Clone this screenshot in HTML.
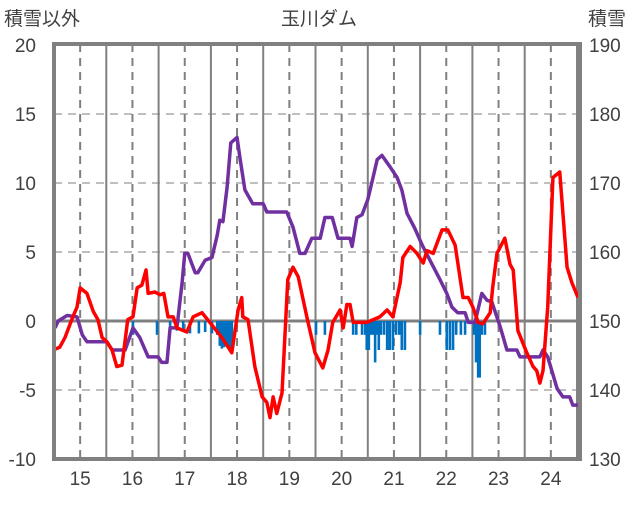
<!DOCTYPE html>
<html><head><meta charset="utf-8"><style>
body{margin:0;background:#fff;}
svg text{font-family:"Liberation Sans","Noto Sans CJK JP",sans-serif;fill:#404040;}
</style></head><body>
<svg id="chart" width="636" height="501" viewBox="0 0 636 501" xmlns="http://www.w3.org/2000/svg">
<text x="319" y="25" font-size="19" text-anchor="middle">玉川ダム</text>
<text x="4" y="25" font-size="19">積雪以外</text>
<text x="588" y="25" font-size="19">積雪</text>
<g id="grid"></g><g id="bars"></g><g id="lines"></g><g id="axes"></g>
</svg>
<script>
const redT=[14.48,14.61,14.71,14.86,14.94,15.00,15.13,15.25,15.34,15.42,15.51,15.61,15.70,15.80,15.91,16.01,16.09,16.18,16.26,16.30,16.43,16.53,16.60,16.68,16.78,16.85,17.04,17.16,17.33,17.48,17.71,17.83,17.90,18.02,18.09,18.11,18.21,18.34,18.48,18.57,18.63,18.69,18.76,18.86,18.97,19.07,19.17,19.34,19.49,19.64,19.74,19.83,19.97,20.03,20.10,20.16,20.22,20.48,20.73,20.87,20.98,21.12,21.17,21.31,21.44,21.56,21.63,21.75,21.92,22.03,22.17,22.32,22.42,22.51,22.61,22.70,22.84,22.89,22.97,23.12,23.22,23.28,23.37,23.54,23.66,23.73,23.79,23.85,23.94,24.04,24.17,24.31,24.40,24.52];
const redV=[-2.1,-1.9,-1.2,0.3,1.0,2.4,2.0,0.7,0.1,-1.2,-1.5,-2.1,-3.3,-3.2,0.1,0.3,2.4,2.6,3.7,2.0,2.1,1.9,2.0,0.3,0.3,-0.5,-0.8,0.3,0.6,-0.1,-1.2,-1.9,-2.3,0.8,1.7,0.3,0.1,-3.3,-5.5,-5.9,-7.0,-5.5,-6.7,-5.2,3.0,3.9,3.2,0.2,-2.3,-3.4,-2.1,-0.1,0.8,-0.5,1.2,1.2,-0.1,-0.1,0.3,0.8,0.3,2.8,4.6,5.4,4.9,4.2,5.1,4.9,6.6,6.6,5.5,1.7,1.7,1.0,-0.1,-0.2,0.6,2.5,4.9,6.0,4.1,3.7,-0.7,-2.3,-3.3,-3.6,-4.5,-3.6,1.0,10.4,10.8,3.9,2.8,1.7];
const purT=[14.52,14.58,14.75,14.94,15.04,15.13,15.51,15.61,15.86,16.01,16.14,16.30,16.49,16.56,16.66,16.72,16.85,16.95,17.00,17.06,17.20,17.25,17.39,17.52,17.62,17.67,17.73,17.81,17.88,18.00,18.06,18.15,18.30,18.50,18.57,18.95,19.07,19.20,19.30,19.43,19.59,19.68,19.82,19.93,20.16,20.20,20.29,20.39,20.50,20.60,20.68,20.77,20.92,21.06,21.15,21.25,21.40,21.54,21.73,21.88,22.01,22.11,22.22,22.36,22.42,22.55,22.68,22.78,22.87,23.03,23.16,23.35,23.41,23.79,23.85,23.94,24.12,24.23,24.36,24.42,24.52];
const purV=[-0.5,0.0,0.4,0.3,-1.0,-1.5,-1.5,-2.1,-2.1,-0.5,-1.2,-2.6,-2.6,-3.0,-3.0,-0.5,-0.5,2.8,4.9,4.9,3.5,3.5,4.4,4.6,6.2,7.3,7.2,9.7,12.9,13.3,11.7,9.5,8.5,8.5,7.9,7.9,6.8,4.9,4.9,6.0,6.0,7.5,7.5,6.0,6.0,5.4,7.5,7.7,8.8,10.4,11.7,12.0,11.2,10.4,9.5,7.8,6.7,5.5,4.1,3.0,2.0,1.0,0.6,0.6,-0.1,-0.1,2.0,1.5,1.4,-0.4,-2.1,-2.1,-2.6,-2.6,-2.1,-2.6,-4.9,-5.5,-5.5,-6.1,-6.1];
const barT=[16.01,16.47,16.72,16.85,16.97,17.10,17.27,17.39,17.52,17.62,17.67,17.71,17.75,17.79,17.83,17.87,17.90,19.51,19.68,20.22,20.28,20.39,20.45,20.48,20.52,20.56,20.60,20.64,20.68,20.71,20.75,20.81,20.87,20.92,20.98,21.04,21.10,21.15,21.21,21.50,21.88,22.01,22.07,22.13,22.19,22.28,22.36,22.53,22.57,22.61,22.64,22.68,22.74];
const barV=[-1.0,-1.0,-0.6,-0.7,-0.7,-0.9,-0.9,-0.8,-0.9,-1.0,-1.8,-2.0,-1.9,-1.7,-2.0,-2.0,-1.5,-1.0,-1.0,-1.0,-1.0,-1.0,-1.0,-2.1,-2.1,-1.0,-1.0,-3.0,-1.0,-2.1,-1.0,-1.0,-2.1,-2.1,-2.1,-1.0,-1.0,-2.1,-2.1,-1.0,-1.0,-2.1,-2.1,-2.1,-1.0,-1.0,-1.0,-1.0,-3.0,-4.1,-4.1,-1.0,-1.0];
const yTicksL=[20,15,10,5,0,-5,-10];
const yTicksR=[190,180,170,160,150,140,130];
const xYears=[15,16,17,18,19,20,21,22,23,24];

const L=54,R=580,T=44,B=459;
const X=t=>54+(t-14.5)*52.3;
const Y=v=>321-v*13.8;
const NS='http://www.w3.org/2000/svg';
function mk(tag,parent,attrs){const e=document.createElementNS(NS,tag);for(const k in attrs)e.setAttribute(k,attrs[k]);document.getElementById(parent).appendChild(e);return e;}
// grid
yTicksL.forEach(v=>{
  if(v===20||v===-10)return;
  const g=mk('line','grid',{x1:L,x2:R,y1:Y(v),y2:Y(v),stroke:v===0?'#808080':'#bfbfbf','stroke-width':v===0?3:2,'stroke-dasharray':v===0?'none':'8,6'});
  
  
});
xYears.forEach(yr=>{
  const d=mk('line','grid',{x1:X(yr),x2:X(yr),y1:T,y2:B,stroke:'#808080','stroke-width':2,'stroke-dasharray':'8,6'});
  
  
  const s=mk('line','grid',{x1:X(yr+0.5),x2:X(yr+0.5),y1:T,y2:B,stroke:'#808080','stroke-width':2});
  
  
  const lb=mk('text','axes',{x:X(yr),y:485,'font-size':19,'text-anchor':'middle'});
  lb.textContent=yr;
  
  
});
barT.forEach((t,i)=>{
  const b=mk('rect','bars',{x:X(t)-1.3,y:Y(0),width:2.6,height:Y(barV[i])-Y(0),fill:'#0070C0'});
  
  
});
function line(ts,vs,col,name){
  const p=mk('polyline','lines',{points:ts.map((t,i)=>X(t)+','+Y(vs[i])).join(' '),fill:'none',stroke:col,'stroke-width':3.5,'stroke-linejoin':'round'});
  
  
}
line(purT,purV,'#7030A0','purple-series');
line(redT,redV,'#FF0000','red-series');
const f=mk('rect','axes',{x:L,y:T,width:R-L,height:B-T,fill:'none',stroke:'#808080','stroke-width':4});


yTicksL.forEach((v,i)=>{
  const a=mk('text','axes',{x:36,y:Y(v)+7,'font-size':19,'text-anchor':'end'});
  a.textContent=v;
  
  
  const b=mk('text','axes',{x:589,y:Y(v)+7,'font-size':19});
  b.textContent=yTicksR[i];
  
  
});
</script>
</body></html>
